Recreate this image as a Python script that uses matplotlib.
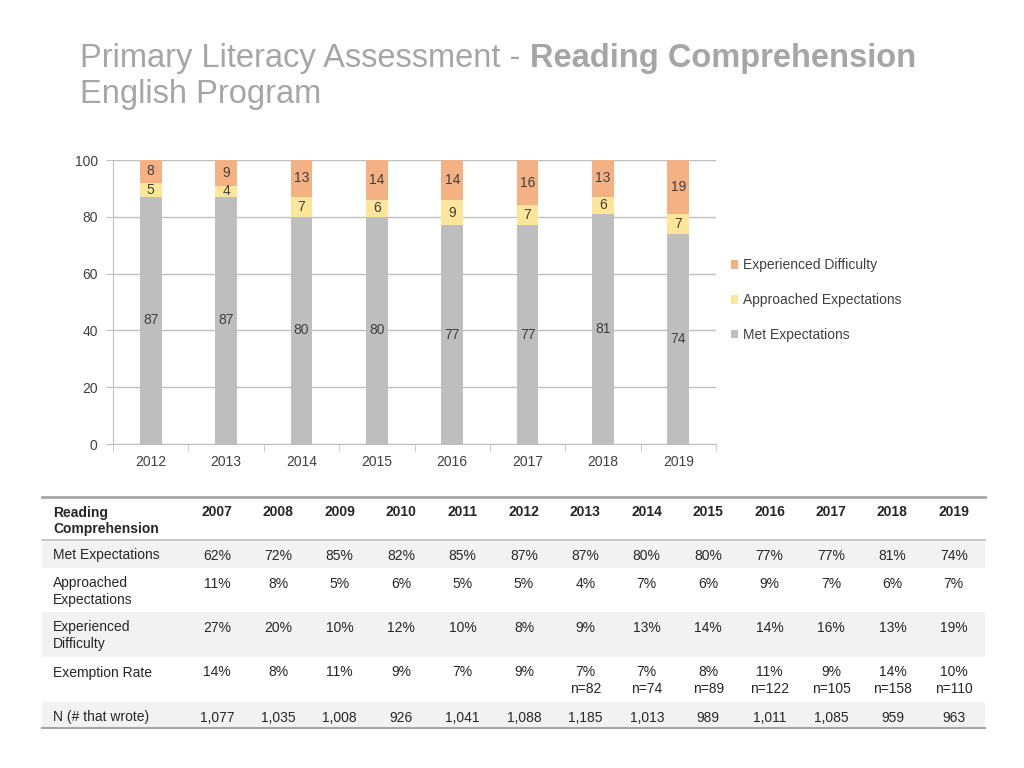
import matplotlib
matplotlib.use("Agg")
import matplotlib.pyplot as plt
import numpy as np

plt.rcParams['font.family'] = ['Liberation Sans', 'DejaVu Sans']

# table data
tbl_years = [2007, 2008, 2009, 2010, 2011, 2012, 2013, 2014, 2015, 2016, 2017, 2018, 2019]
met = [62, 72, 85, 82, 85, 87, 87, 80, 80, 77, 77, 81, 74]
approached = [11, 8, 5, 6, 5, 5, 4, 7, 6, 9, 7, 6, 7]
difficulty = [27, 20, 10, 12, 10, 8, 9, 13, 14, 14, 16, 13, 19]
exemption = [14, 8, 11, 9, 7, 9, 7, 7, 8, 11, 9, 14, 10]
exemption_n = [None, None, None, None, None, None, 82, 74, 89, 122, 105, 158, 110]
n_wrote = [1077, 1035, 1008, 926, 1041, 1088, 1185, 1013, 989, 1011, 1085, 959, 963]

# chart shows 2012-2019
chart_years = [str(y) for y in tbl_years[5:]]
chart_met = met[5:]
chart_appr = approached[5:]
chart_diff = difficulty[5:]

c_met = '#BEBEBE'
c_appr = '#FDE59A'
c_diff = '#F4B183'
txt = '#404040'
grid_c = '#BFBFBF'
title_c = '#A6A6A6'

fig = plt.figure(figsize=(10.24, 7.68), dpi=100)

# ---- title ----
renderer = fig.canvas.get_renderer()
t1 = fig.text(80 / 1024, 1 - 67 / 768, "Primary Literacy Assessment - ", fontsize=23.5,
              color=title_c, ha='left', va='baseline')
bb = t1.get_window_extent(renderer)
fig.text(bb.x1 / 1024, 1 - 67 / 768, "Reading Comprehension", fontsize=23.5,
         color=title_c, fontweight='bold', ha='left', va='baseline')
fig.text(80 / 1024, 1 - 103 / 768, "English Program", fontsize=23.5,
         color=title_c, ha='left', va='baseline')

# ---- chart ----
ax = fig.add_axes([113 / 1024, 1 - 444 / 768, 603 / 1024, 284 / 768])
x = np.arange(len(chart_years))
w = 0.29
b1 = ax.bar(x, chart_met, w, color=c_met, label='Met Expectations', zorder=3)
b2 = ax.bar(x, chart_appr, w, bottom=chart_met, color=c_appr,
            label='Approached Expectations', zorder=3)
bot3 = [m + a for m, a in zip(chart_met, chart_appr)]
b3 = ax.bar(x, chart_diff, w, bottom=bot3, color=c_diff,
            label='Experienced Difficulty', zorder=3)
for bars in (b1, b2, b3):
    ax.bar_label(bars, label_type='center', fontsize=10, color=txt)

ax.set_xlim(-0.5, len(chart_years) - 0.5)
ax.set_ylim(0, 100)
ax.set_yticks([0, 20, 40, 60, 80, 100])
ax.yaxis.grid(True, color=grid_c, linewidth=1, zorder=0)
ax.set_xticks(x)
ax.set_xticklabels(chart_years)
ax.set_xticks(np.arange(len(chart_years) + 1) - 0.5, minor=True)
ax.tick_params(axis='x', which='major', length=0, pad=8, labelsize=10, labelcolor=txt)
ax.tick_params(axis='x', which='minor', length=5, color=grid_c)
ax.tick_params(axis='y', length=5, color=grid_c, labelsize=10, labelcolor=txt, pad=6)
for s in ('top', 'right'):
    ax.spines[s].set_visible(False)
ax.spines['left'].set_color(grid_c)
ax.spines['bottom'].set_color(grid_c)

handles = [b3, b2, b1]
labels = ['Experienced Difficulty', 'Approached Expectations', 'Met Expectations']
fig.legend(handles, labels, loc='upper left', bbox_to_anchor=(718 / 1024, 1 - 246 / 768),
           frameon=False, fontsize=10, handlelength=0.55, handleheight=0.55,
           handletextpad=0.35, labelspacing=1.5, labelcolor=txt)

# ---- table ----
ov = fig.add_axes([0, 0, 1, 1], zorder=-1)
ov.set_xlim(0, 1024)
ov.set_ylim(768, 0)
ov.axis('off')

row_edges = [497, 540, 568, 612, 657, 702, 728]
shaded = [1, 3, 5]
left, right = 42, 985
for r in shaded:
    ov.fill_between([left, right], row_edges[r], row_edges[r + 1], color='#F2F2F2', lw=0)
ov.plot([left, right], [row_edges[0], row_edges[0]], color='#A6A6A6', lw=2)
ov.plot([left, right], [row_edges[1], row_edges[1]], color='#BFBFBF', lw=1.2)
ov.plot([left, right], [row_edges[-1], row_edges[-1]], color='#A6A6A6', lw=1.5)

col_x = [217 + i * 61.4 for i in range(len(tbl_years))]
row_labels = ['Reading\nComprehension', 'Met Expectations', 'Approached\nExpectations',
              'Experienced\nDifficulty', 'Exemption Rate', 'N (# that wrote)']
pct = lambda v: f"{v}%"
rows = [
    [str(y) for y in tbl_years],
    [pct(v) for v in met],
    [pct(v) for v in approached],
    [pct(v) for v in difficulty],
    [pct(v) + (f"\nn={n}" if n is not None else "") for v, n in zip(exemption, exemption_n)],
    [f"{v:,}" for v in n_wrote],
]
tc = '#262626'
for r, (lab, vals) in enumerate(zip(row_labels, rows)):
    y0 = row_edges[r] + 8.5
    fw = 'bold' if r == 0 else 'normal'
    ov.text(53, y0, lab, fontsize=10, color=tc, ha='left', va='top',
            fontweight=fw, linespacing=1.25)
    for cx, v in zip(col_x, vals):
        ov.text(cx, y0, v, fontsize=10, color=tc, ha='center', va='top',
                fontweight=fw, linespacing=1.25)

fig.savefig('out.png', dpi=100)
